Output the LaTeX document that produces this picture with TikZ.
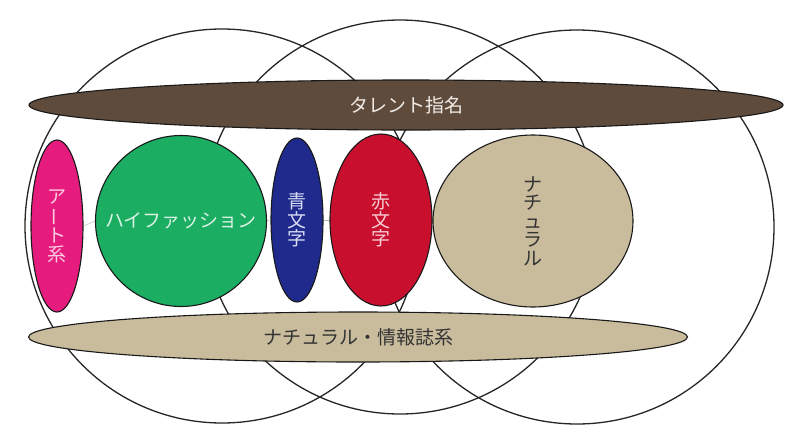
\documentclass[tikz,border=0pt]{standalone}
\usepackage{fontspec}
\setmainfont{Noto Sans CJK JP}
\usetikzlibrary{shapes.geometric}
\definecolor{cbrown}{HTML}{5F4B3C}
\definecolor{ctan}{HTML}{C9BC9C}
\definecolor{cpink}{HTML}{E51C7E}
\definecolor{cgreen}{HTML}{1BAD62}
\definecolor{cblue}{HTML}{1F2A8C}
\definecolor{cred}{HTML}{C8102E}
\definecolor{tpink}{HTML}{F9CBE1}
\definecolor{tgreen}{HTML}{D8F2E3}
\definecolor{tblue}{HTML}{D9DCF5}
\definecolor{tred}{HTML}{F8CCD4}
\definecolor{tlight}{HTML}{F2ECE6}
\definecolor{tdark}{HTML}{333333}
\tikzset{
  bigcircle/.style={draw=black!85, line width=1.3pt, circle, minimum size=394pt, inner sep=0pt},
  blob/.style={ellipse, draw=black!90, line width=1.1pt, inner sep=0pt, font=\fontsize{19pt}{18.5pt}\selectfont, align=center},
  stub/.style={draw=gray!60, line width=0.4pt}
}
\newcommand{\vchoon}{\rotatebox[origin=c]{90}{ー}}
\begin{document}
\begin{tikzpicture}[x=1pt,y=-1pt]
\useasboundingbox (0,0) rectangle (800,442);
\fill[white] (0,0) rectangle (800,442);
% big circles
\node[bigcircle] (cl) at (222,226) {};
\node[bigcircle] (cm) at (400,217) {};
\node[bigcircle] (cr) at (577,227) {};
% band ellipses
\node[blob, fill=cbrown, text=tlight, minimum width=754pt, minimum height=50pt] (talent) at (406,105) {タレント指名};
\node[blob, fill=ctan, text=tdark, minimum width=659pt, minimum height=50pt] (info) at (358,337) {ナチュラル・情報誌系};
% middle row
\node[blob, fill=cpink, text=tpink, minimum width=52pt, minimum height=172pt] (art) at (57,226) {ア\\\vchoon\\ト\\系};
\node[blob, circle, fill=cgreen, text=tgreen, minimum size=171pt] (high) at (181,221) {ハイファッション};
\node[blob, fill=cblue, text=tblue, minimum width=52pt, minimum height=164pt] (blue) at (297,220) {青\\文\\字};
\node[blob, fill=cred, text=tred, minimum width=102pt, minimum height=172pt] (red) at (381,220) {赤\\文\\字};
\node[blob, fill=ctan, text=tdark, minimum width=200pt, minimum height=172pt] (nat) at (533,221) {ナ\\チ\\ュ\\ラ\\ル};
% faint connector stubs
\draw[stub] (art.east) -- (high.west);
\draw[stub] (high.east) -- (blue.west);
\draw[stub] (blue.east) -- (red.west);
\end{tikzpicture}
\end{document}
